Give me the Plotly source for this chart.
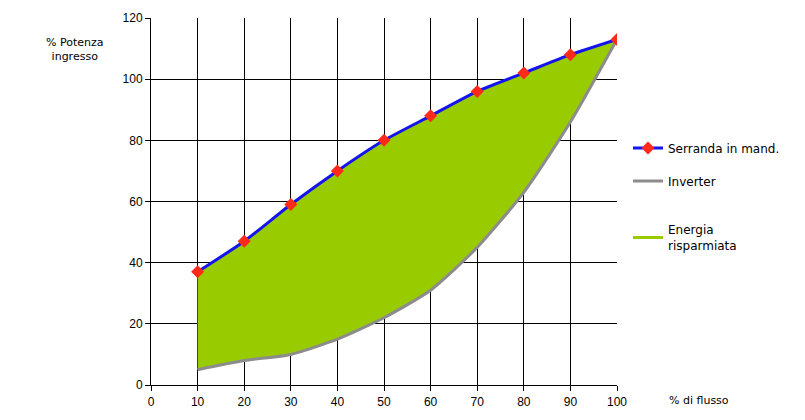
import plotly.graph_objects as go

flusso = [10, 20, 30, 40, 50, 60, 70, 80, 90, 100]
serranda = [37, 47, 59, 70, 80, 88, 96, 102, 108, 113]
inverter = [5, 8, 10, 15, 22, 31, 45, 63, 86, 113]
x_ticks = [0, 10, 20, 30, 40, 50, 60, 70, 80, 90, 100]
y_ticks = [0, 20, 40, 60, 80, 100, 120]

BLUE = "#1414f0"
RED = "#ff2a1a"
GRAY = "#8c8c8c"
GREEN = "#99cc00"
SM = 0.6

fig = go.Figure()
fig.add_trace(go.Scatter(x=flusso, y=inverter, mode="lines", line=dict(width=0, shape="spline", smoothing=SM),
                         showlegend=False, hoverinfo="skip"))
fig.add_trace(go.Scatter(x=flusso, y=serranda, mode="lines", line=dict(width=0, shape="spline", smoothing=SM),
                         fill="tonexty", fillcolor=GREEN, showlegend=False, hoverinfo="skip"))
fig.add_trace(go.Scatter(x=flusso, y=inverter, mode="lines", name="Inverter",
                         line=dict(color=GRAY, width=3, shape="spline", smoothing=SM),
                         legend="legend2"))
fig.add_trace(go.Scatter(x=flusso, y=serranda, mode="lines+markers", name="Serranda in mand.",
                         line=dict(color=BLUE, width=3, shape="spline", smoothing=SM),
                         marker=dict(symbol="diamond", color=RED, size=10),
                         legend="legend"))
fig.add_trace(go.Scatter(x=[None], y=[None], mode="lines", name="Energia<br>risparmiata",
                         line=dict(color=GREEN, width=3), legend="legend3"))

# page offset (body margin 8px) compensated: figure coords = page - 8
W, H = 789, 404
L, T = 143, 10
R = W - (617 - 8)
B = H - (385 - 8)

def py(page_y):
    return ((H - B) - (page_y - 8)) / (H - B - T)

def px(page_x):
    return ((page_x - 8) - L) / (W - L - R)

leg_font = dict(family="DejaVu Sans", size=12, color="black")
common = dict(xanchor="left", yanchor="middle", font=leg_font, bgcolor="rgba(0,0,0,0)",
              itemwidth=30, borderwidth=0)

fig.update_layout(
    width=W, height=H,
    margin=dict(l=L, r=R, t=T, b=B, autoexpand=False),
    paper_bgcolor="white", plot_bgcolor="white",
    font=dict(family="Liberation Sans, Arial, sans-serif", size=12, color="black"),
    legend=dict(x=px(628), y=py(148), **common),
    legend2=dict(x=px(628), y=py(181), **common),
    legend3=dict(x=px(628), y=py(238), **common),
    xaxis=dict(range=[0, 100], tickvals=x_ticks, showgrid=True, gridcolor="black", gridwidth=1,
               showline=True, linecolor="black", linewidth=1, ticks="outside", ticklen=5,
               tickcolor="black", zeroline=False, ticklabelstandoff=1),
    yaxis=dict(range=[0, 120], tickvals=y_ticks, showgrid=True, gridcolor="black", gridwidth=1,
               showline=True, linecolor="black", linewidth=1, ticks="outside", ticklen=5,
               tickcolor="black", zeroline=False),
    annotations=[
        dict(text="% Potenza<br>ingresso", xref="paper", yref="paper", x=px(75), y=py(50),
             xanchor="center", yanchor="middle", showarrow=False,
             font=dict(family="DejaVu Sans", size=11)),
        dict(text="% di flusso", xref="paper", yref="paper", x=px(667), y=py(400),
             xanchor="left", yanchor="middle", showarrow=False,
             font=dict(family="DejaVu Sans", size=11)),
    ],
)

fig.write_html("out.html")
